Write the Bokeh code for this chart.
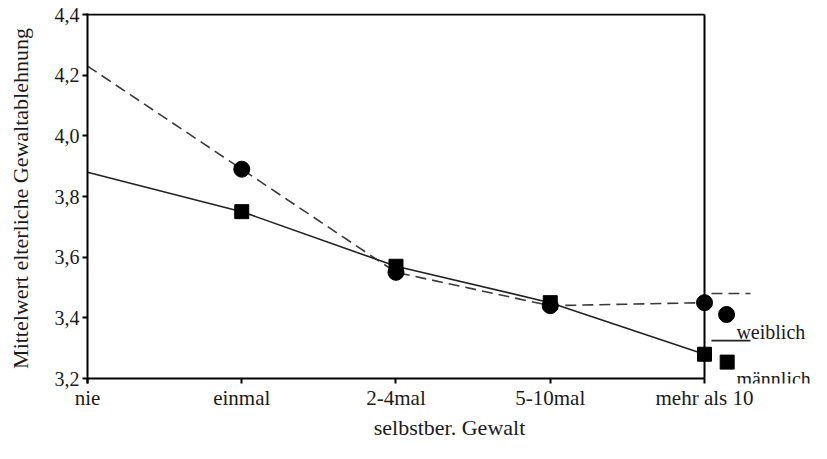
from bokeh.plotting import figure
from bokeh.models import Range1d, FixedTicker, CustomJSTickFormatter, Label, ColumnDataSource, Title
from bokeh.embed import file_html
from bokeh.resources import INLINE

# ---- data ----
categories = ["nie", "einmal", "2-4mal", "5-10mal", "mehr als 10"]
weiblich = [4.23, 3.89, 3.55, 3.44, 3.45]
maennlich = [3.88, 3.75, 3.57, 3.45, 3.28]
y_ticks = [3.2, 3.4, 3.6, 3.8, 4.0, 4.2, 4.4]
x_title = "selbstber. Gewalt"
y_title = "Mittelwert elterliche Gewaltablehnung"
series_names = ["weiblich", "männlich"]

FONT = "Liberation Serif"
TXT = "#1a1a1a"

xs = list(range(len(categories)))
src_w = ColumnDataSource(dict(x=xs, y=weiblich))
src_m = ColumnDataSource(dict(x=xs, y=maennlich))
src_wm = ColumnDataSource(dict(x=xs[1:], y=weiblich[1:]))
src_mm = ColumnDataSource(dict(x=xs[1:], y=maennlich[1:]))

x_last = xs[-1]
u = (y_ticks[-1] - y_ticks[0]) / 364.0   # data units per pixel
p = figure(width=811, height=443, output_backend="svg", toolbar_location=None,
           x_range=Range1d(0, 4.6937),
           y_range=Range1d(y_ticks[0] - 5 * u, y_ticks[-1] + 1 * u),
           min_border_left=87, min_border_right=0, min_border_top=13, min_border_bottom=60)
p.outline_line_color = None
p.background_fill_color = "white"
p.border_fill_color = "white"
p.xgrid.visible = False
p.ygrid.visible = False

# frame lines (box from nie to "mehr als 10")
p.line([0, x_last], [y_ticks[-1], y_ticks[-1]], line_color="black", line_width=2)
p.line([0, x_last], [y_ticks[0], y_ticks[0]], line_color="black", line_width=2)
p.line([x_last, x_last], [y_ticks[0], y_ticks[-1]], line_color="black", line_width=2)

# series
p.line("x", "y", source=src_w, line_color="#3a3a3a", line_width=1.6, line_dash="11 6")
p.line("x", "y", source=src_m, line_color="#222222", line_width=1.6)
p.scatter("x", "y", source=src_wm, marker="circle", size=16, fill_color="black", line_color="black")
p.scatter("x", "y", source=src_mm, marker="square", size=14, fill_color="black", line_color="black")

# legend (SPSS style)
p.line([4.045, 4.298], [3.480, 3.480], line_color="#3a3a3a", line_width=1.6, line_dash="11 6")
p.scatter([4.143], [3.411], marker="circle", size=16, fill_color="black", line_color="black")
p.add_layout(Label(x=4.207, y=3.352, text=series_names[0], text_font=FONT, text_font_size="20px",
                   text_color=TXT, text_baseline="alphabetic", text_align="left"))
p.line([4.045, 4.298], [3.325, 3.325], line_color="#222222", line_width=1.6)
p.scatter([4.147], [3.254], marker="square", size=14, fill_color="black", line_color="black")
p.add_layout(Label(x=4.207, y=3.200, text=series_names[1], text_font=FONT, text_font_size="20px",
                   text_color=TXT, text_baseline="alphabetic", text_align="left"))

# x axis
xa = p.xaxis[0]
xa.ticker = FixedTicker(ticks=xs)
xa.major_label_overrides = {i: c for i, c in enumerate(categories)}
xa.axis_line_color = None
xa.major_tick_in = 5
xa.major_tick_out = 0
xa.major_tick_line_width = 2
xa.minor_tick_line_color = None
xa.major_label_standoff = 2
xa.major_label_text_font = FONT
xa.major_label_text_font_size = "21px"
xa.major_label_text_color = TXT

# x title, centred under the box (nie .. mehr als 10)
p.add_layout(Title(text=x_title, align="center", offset=-55, standoff=0,
                   text_font=FONT, text_font_size="22px", text_font_style="normal",
                   text_color=TXT), "below")

# y axis
ya = p.yaxis[0]
ya.ticker = FixedTicker(ticks=y_ticks)
ya.formatter = CustomJSTickFormatter(code="return tick.toFixed(1).replace('.', ',');")
ya.axis_line_color = "black"
ya.axis_line_width = 2
ya.major_tick_in = 0
ya.major_tick_out = 5
ya.major_tick_line_width = 2
ya.minor_tick_line_color = None
ya.major_label_standoff = 3
ya.major_label_text_font = FONT
ya.major_label_text_font_size = "20px"
ya.major_label_text_color = TXT
ya.axis_label = y_title
ya.axis_label_text_font = FONT
ya.axis_label_text_font_size = "22px"
ya.axis_label_text_font_style = "normal"
ya.axis_label_text_color = TXT
ya.axis_label_standoff = 19

open("out.html", "w").write(file_html(p, INLINE))
